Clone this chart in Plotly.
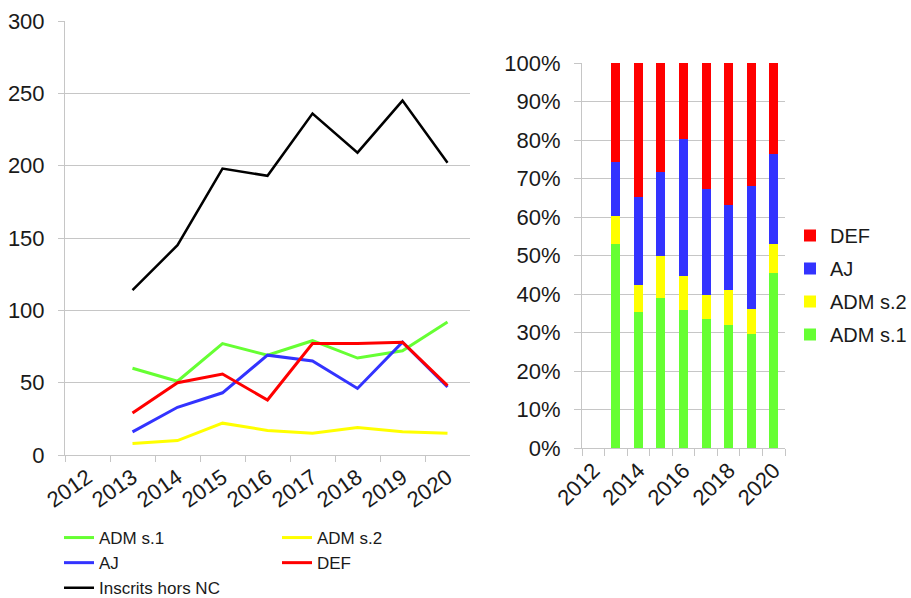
import plotly.graph_objects as go

# ---- data ----
years = ['2012', '2013', '2014', '2015', '2016', '2017', '2018', '2019', '2020']
data_years = ['2013', '2014', '2015', '2016', '2017', '2018', '2019', '2020']
adm1 = [60, 51, 77, 69, 79, 67, 72, 92]
adm2 = [8, 10, 22, 17, 15, 19, 16, 15]
aj = [16, 33, 43, 69, 65, 46, 78, 47]
def_ = [29, 50, 56, 38, 77, 77, 78, 48]
inscrits = [114, 145, 198, 193, 236, 209, 245, 202]
right_ticktext = ['2012', '', '2014', '', '2016', '', '2018', '', '2020']

GREEN = '#66FF33'
YELLOW = '#FFFF00'
BLUE = '#3333FF'
RED = '#FF0000'
BLACK = '#000000'
GRID = '#c6c6c6'
TXT = '#1a1a1a'
FONT = 'Liberation Sans, Arial, sans-serif'

W, H = 911, 598

fig = go.Figure()

# ---- left line chart ----
line_series = [
    ('ADM s.1', adm1, GREEN, 'legend', 3),
    ('ADM s.2', adm2, YELLOW, 'legend2', 3),
    ('AJ', aj, BLUE, 'legend', 3),
    ('DEF', def_, RED, 'legend2', 3),
    ('Inscrits hors NC', inscrits, BLACK, 'legend', 2.5),
]
for name, vals, col, leg, lw in line_series:
    fig.add_trace(go.Scatter(
        x=data_years, y=vals, name=name, mode='lines',
        line=dict(color=col, width=lw), legend=leg,
        xaxis='x', yaxis='y'))

# ---- right stacked percent bars ----
bar_series = [
    ('ADM s.1', adm1, GREEN),
    ('ADM s.2', adm2, YELLOW),
    ('AJ', aj, BLUE),
    ('DEF', def_, RED),
]
n_bar = len(bar_series)
for i, (name, vals, col) in enumerate(bar_series):
    fig.add_trace(go.Bar(
        x=data_years, y=vals, name=name, marker=dict(color=col, line=dict(width=0)),
        width=0.4, legend='legend3', legendgroup='b%d' % i,
        legendrank=n_bar - i,
        xaxis='x2', yaxis='y2'))

axis_common = dict(showline=True, linecolor=GRID, linewidth=1,
                   ticks='outside', tickcolor=GRID, zeroline=False,
                   automargin=False,
                   tickfont=dict(size=22, color=TXT, family=FONT))

fig.update_layout(
    width=W, height=H, autosize=False,
    margin=dict(l=0, r=0, t=0, b=0, autoexpand=False),
    paper_bgcolor='white', plot_bgcolor='white',
    font=dict(family=FONT, color=TXT),
    barmode='stack', barnorm='percent',
    showlegend=True,
    xaxis=dict(domain=[65 / W, 470 / W], anchor='y', type='category',
               categoryorder='array', categoryarray=years,
               range=[-0.5, 8.5], tickson='boundaries', ticklen=6,
               showgrid=False, tickangle=-35, **axis_common),
    yaxis=dict(domain=[1 - 455 / H, 1 - 21 / H], anchor='x',
               range=[0, 300], dtick=50, showgrid=True, gridcolor=GRID,
               ticklen=6, ticklabelstandoff=9, **axis_common),
    xaxis2=dict(domain=[582 / W, 785 / W], anchor='y2', type='category',
                categoryorder='array', categoryarray=years,
                tickmode='array', tickvals=years, ticktext=right_ticktext,
                range=[-0.5, 8.5], tickson='boundaries', ticklen=7,
                showgrid=False, tickangle=-45, **axis_common),
    yaxis2=dict(domain=[1 - 448 / H, 1 - 63 / H], anchor='x2',
                range=[0, 100], dtick=10, ticksuffix='%', showgrid=True,
                gridcolor=GRID, ticklen=7, ticklabelstandoff=9, **axis_common),
    legend=dict(x=59 / W, y=1 - 520 / H, xanchor='left', yanchor='top',
                orientation='v', bgcolor='rgba(0,0,0,0)',
                font=dict(size=17, color=TXT, family=FONT), itemwidth=30),
    legend2=dict(x=277 / W, y=1 - 520 / H, xanchor='left', yanchor='top',
                 orientation='v', bgcolor='rgba(0,0,0,0)',
                 font=dict(size=17, color=TXT, family=FONT), itemwidth=30),
    legend3=dict(x=790 / W, y=1 - 216 / H, xanchor='left', yanchor='top',
                 orientation='v', traceorder='grouped',
                 bgcolor='rgba(0,0,0,0)',
                 font=dict(size=20, color=TXT, family=FONT), itemwidth=30,
                 tracegroupgap=4),
)

fig.write_html('out.html')
